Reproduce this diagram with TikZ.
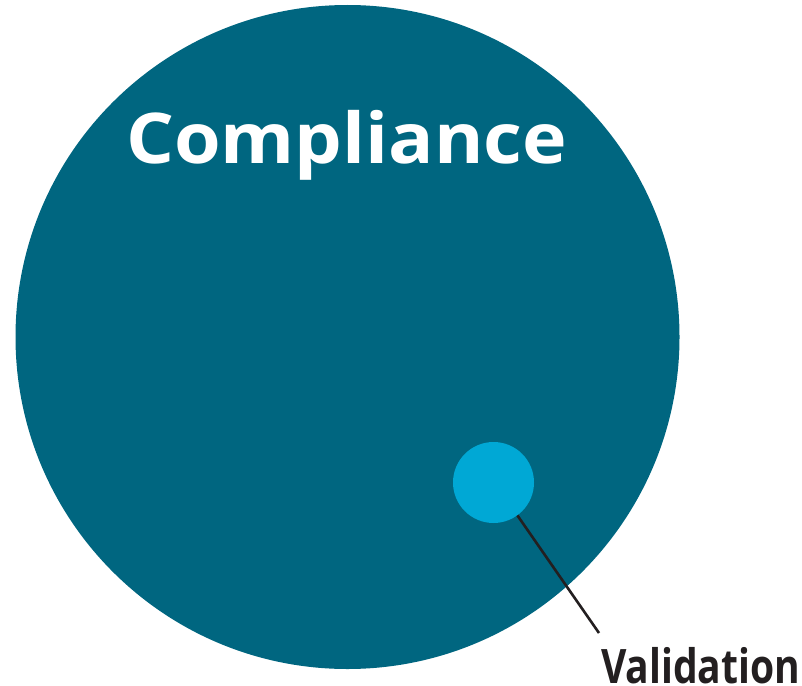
\documentclass[tikz,border=0pt]{standalone}
\usepackage{fontspec}
\setmainfont{Open Sans}
\definecolor{compliance}{HTML}{006680}
\definecolor{validation}{HTML}{00A8D5}
\definecolor{leader}{HTML}{231F20}
\tikzset{
  setdisc/.style={circle, inner sep=0pt, draw=none},
  leaderline/.style={draw=leader, line width=2.6pt},
  setlabel/.style={anchor=base west, inner sep=0pt},
}
\begin{document}
\begin{tikzpicture}[x=1pt, y=-1pt]
  \useasboundingbox (0,0) rectangle (802,685);
  % outer set
  \node[setdisc, fill=compliance, minimum size=664pt] (comp) at (347.5,337) {};
  % inner set
  \node[setdisc, fill=validation, minimum size=81pt] (val) at (493.5,482.5) {};
  % labels, set to fixed widths
  \node[setlabel, text=white, font=\fontsize{70}{70}\selectfont\bfseries] (complabel) at (126,163)
    {\resizebox{441pt}{\height}{Compliance}};
  \node[setlabel, text=leader, font=\fontsize{47.5}{47.5}\selectfont\bfseries] (vallabel) at (601,683)
    {\resizebox{199pt}{\height}{Validation}};
  % leader from the inner set to its label
  \coordinate (tip) at (599,633);
  \draw[leaderline] (val.-54) -- (tip);
\end{tikzpicture}
\end{document}
